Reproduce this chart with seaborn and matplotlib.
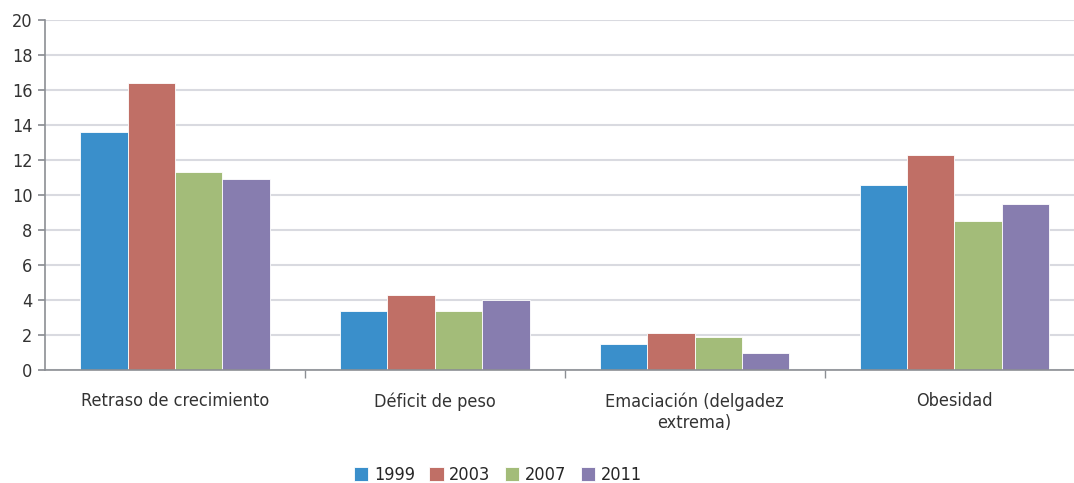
import pandas as pd
import matplotlib.pyplot as plt
import seaborn as sns

categorias = ['Retraso de crecimiento', 'Déficit de peso',
              'Emaciación (delgadez\nextrema)', 'Obesidad']
anios = ['1999', '2003', '2007', '2011']
v1999 = [13.6, 3.4, 1.5, 10.6]
v2003 = [16.4, 4.3, 2.1, 12.3]
v2007 = [11.3, 3.4, 1.9, 8.5]
v2011 = [10.9, 4.0, 1.0, 9.5]
colores = ['#3A8FCB', '#C06F66', '#A3BC79', '#877DAF']

rows = []
for anio, vals in zip(anios, [v1999, v2003, v2007, v2011]):
    for cat, v in zip(categorias, vals):
        rows.append({'categoria': cat, 'anio': anio, 'valor': v})
df = pd.DataFrame(rows)

sns.set_theme(style='white')
plt.rcParams['font.family'] = ['DejaVu Sans']
plt.rcParams['font.stretch'] = 'condensed'

fig = plt.figure(figsize=(10.74, 4.83), dpi=100)
ax = fig.add_axes([45 / 1074, 1 - 370 / 483, 1 - 45 / 1074, 350 / 483])

sns.barplot(data=df, x='categoria', y='valor', hue='anio', palette=colores,
            saturation=1, width=0.73, edgecolor='white', linewidth=0.6,
            ax=ax, legend=True)

ax.set_ylim(0, 20)
ax.set_xlim(-0.5, 3.46)
ax.set_yticks(range(0, 21, 2))
ax.yaxis.grid(True, color='#D9DAE0', linewidth=1.5)
ax.set_axisbelow(True)
for s in ['top', 'right']:
    ax.spines[s].set_visible(False)
for s in ['left', 'bottom']:
    ax.spines[s].set_color('#8C8F94')
    ax.spines[s].set_linewidth(1.2)
ax.set_xlabel('')
ax.set_ylabel('')
ax.tick_params(axis='y', left=True, length=5, color='#8C8F94', labelsize=13,
               labelcolor='#333333', pad=4)
ax.tick_params(axis='x', bottom=False, labelsize=13, labelcolor='#333333', pad=10)
ax.set_xticks([0.5, 1.5, 2.5], minor=True)
ax.tick_params(axis='x', which='minor', bottom=True, length=6, color='#8C8F94')

ax.legend(loc='center', bbox_to_anchor=(0.44, -0.3), ncol=4, frameon=False,
          fontsize=13, handlelength=0.8, handleheight=0.8, handletextpad=0.3,
          columnspacing=0.8)

fig.savefig('out.png', dpi=100)
